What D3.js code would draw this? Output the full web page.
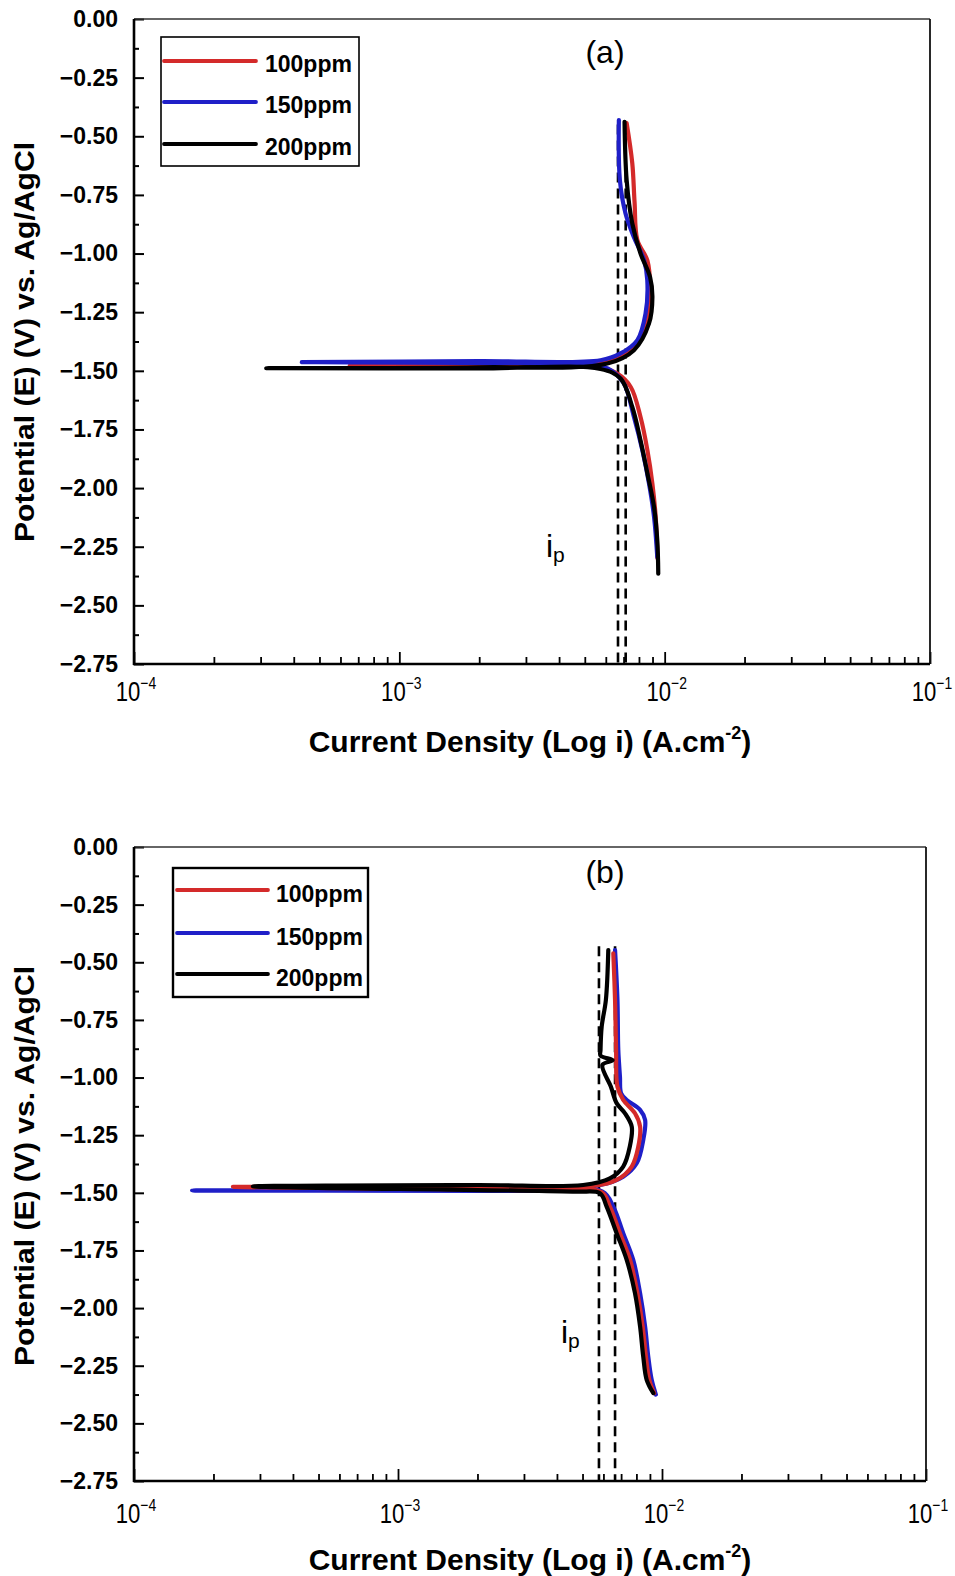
<!DOCTYPE html>
<html>
<head>
<meta charset="utf-8">
<script src="https://cdn.jsdelivr.net/npm/d3@7/dist/d3.min.js"></script>
<style>
  html, body { margin: 0; padding: 0; background: #fff; }
  svg { display: block; }
  text { font-family: Arial, "Liberation Sans", Helvetica, sans-serif; }
</style>
</head>
<body>
<svg id="chart" width="955" height="1576"></svg>
<script>
// ---------------- DATA ----------------
const seriesNames = ["100ppm", "150ppm", "200ppm"];
const yTickValues = [0, -0.25, -0.5, -0.75, -1.0, -1.25, -1.5, -1.75, -2.0, -2.25, -2.5, -2.75];
const xTickExponents = [-4, -3, -2, -1];
const panelLabels = ["(a)", "(b)"];
const xTitle = "Current Density (Log i) (A.cm";
const yTitle = "Potential (E) (V) vs. Ag/AgCl";

// Panel (a): [current density (A/cm2), potential (V)]
const a100 = [[9.40e-3,-2.300],[9.25e-3,-2.123],[8.99e-3,-1.981],[8.61e-3,-1.839],[8.11e-3,-1.697],[7.45e-3,-1.569],[6.63e-3,-1.512],[5.57e-3,-1.482],[2.0e-3,-1.481],[6.5e-4,-1.479],[2.0e-3,-1.475],[5.0e-3,-1.470],[6.44e-3,-1.448],[7.66e-3,-1.398],[8.61e-3,-1.284],[8.81e-3,-1.142],[8.61e-3,-1.030],[7.89e-3,-0.943],[7.70e-3,-0.780],[7.55e-3,-0.615],[7.19e-3,-0.444]];
const a150 = [[9.38e-3,-2.294],[9.12e-3,-2.123],[8.73e-3,-1.981],[8.24e-3,-1.839],[7.66e-3,-1.697],[7.02e-3,-1.554],[6.25e-3,-1.497],[5.5e-3,-1.476],[2.0e-3,-1.466],[4.29e-4,-1.463],[2.0e-3,-1.459],[5.73e-3,-1.455],[6.82e-3,-1.426],[7.89e-3,-1.369],[8.47e-3,-1.256],[8.60e-3,-1.113],[8.36e-3,-1.028],[7.65e-3,-0.929],[7.12e-3,-0.829],[6.78e-3,-0.687],[6.72e-3,-0.431]];
const a200 = [[9.46e-3,-2.365],[9.38e-3,-2.223],[9.12e-3,-2.081],[8.61e-3,-1.938],[8.11e-3,-1.797],[7.55e-3,-1.654],[6.82e-3,-1.533],[5.73e-3,-1.492],[2.0e-3,-1.490],[3.15e-4,-1.489],[2.0e-3,-1.485],[6.08e-3,-1.469],[7.66e-3,-1.412],[8.73e-3,-1.298],[8.99e-3,-1.185],[8.81e-3,-1.100],[8.11e-3,-1.000],[7.55e-3,-0.872],[7.19e-3,-0.687],[7.06e-3,-0.438]];
const aDashed = [6.67e-3, 7.13e-3];

// Panel (b)
const b100 = [[9.33e-3,-2.369],[8.95e-3,-2.311],[8.69e-3,-2.210],[8.45e-3,-2.080],[8.07e-3,-1.935],[7.57e-3,-1.791],[6.93e-3,-1.675],[6.35e-3,-1.560],[5.9e-3,-1.497],[3.0e-3,-1.488],[2.37e-4,-1.474],[2.0e-3,-1.471],[5.5e-3,-1.470],[6.73e-3,-1.444],[7.68e-3,-1.386],[8.13e-3,-1.300],[8.26e-3,-1.213],[7.90e-3,-1.155],[7.13e-3,-1.097],[6.78e-3,-1.040],[6.70e-3,-0.880],[6.64e-3,-0.663],[6.54e-3,-0.461]];
const b150 = [[9.48e-3,-2.375],[9.14e-3,-2.311],[8.87e-3,-2.210],[8.63e-3,-2.080],[8.26e-3,-1.935],[7.78e-3,-1.791],[7.13e-3,-1.675],[6.54e-3,-1.560],[5.95e-3,-1.495],[3.0e-3,-1.492],[1.66e-4,-1.490],[2.0e-3,-1.484],[5.82e-3,-1.466],[7.13e-3,-1.430],[8.02e-3,-1.372],[8.49e-3,-1.271],[8.63e-3,-1.184],[8.26e-3,-1.140],[7.35e-3,-1.097],[7.00e-3,-1.068],[6.93e-3,-0.996],[6.83e-3,-0.880],[6.78e-3,-0.663],[6.64e-3,-0.447]];
const b200 = [[9.27e-3,-2.369],[8.75e-3,-2.311],[8.49e-3,-2.210],[8.26e-3,-2.080],[7.90e-3,-1.935],[7.35e-3,-1.791],[6.73e-3,-1.675],[6.17e-3,-1.560],[5.82e-3,-1.502],[4.75e-3,-1.495],[2.0e-3,-1.488],[2.82e-4,-1.472],[2.0e-3,-1.466],[5.03e-3,-1.466],[6.35e-3,-1.437],[7.13e-3,-1.386],[7.55e-3,-1.300],[7.68e-3,-1.213],[7.24e-3,-1.155],[6.73e-3,-1.111],[6.40e-3,-1.039],[5.95e-3,-0.945],[6.50e-3,-0.925],[5.85e-3,-0.905],[5.85e-3,-0.880],[5.91e-3,-0.779],[6.13e-3,-0.663],[6.26e-3,-0.447]];
const bDashed = [5.77e-3, 6.64e-3];

// ---------------- STYLE / LAYOUT ----------------
const colors = {"100ppm": "#d42a2a", "150ppm": "#1f1fc8", "200ppm": "#000000"};
const panels = [
  { label: panelLabels[0], left: 134, right: 930, top: 19, bottom: 664,
    series: {"100ppm": a100, "150ppm": a150, "200ppm": a200}, order: ["100ppm","150ppm","200ppm"],
    dashed: aDashed, dashTop: -0.45,
    legend: {x0: 161, x1: 359, y0: 37, y1: 166, lx0: 164, lx1: 256, ly: [61, 102, 144], tx: 265, tdy: 11, stroke: 1.6},
    labelPos: [605, 63], ip: [546, 557], xLabelY: 701, titleY: 752, yTitleC: 342 },
  { label: panelLabels[1], left: 134, right: 926, top: 847, bottom: 1481,
    series: {"100ppm": b100, "150ppm": b150, "200ppm": b200}, order: ["150ppm","100ppm","200ppm"],
    dashed: bDashed, dashTop: -0.43,
    legend: {x0: 173, x1: 368, y0: 868, y1: 997, lx0: 177, lx1: 268, ly: [890, 933, 974], tx: 276, tdy: 12, stroke: 2.4},
    labelPos: [605, 883], ip: [561, 1343], xLabelY: 1523, titleY: 1570, yTitleC: 1166 }
];

const svg = d3.select("#chart");
svg.append("rect").attr("width", 955).attr("height", 1576).attr("fill", "#fff");

panels.forEach(p => {
  const g = svg.append("g");
  const x = d3.scaleLog().domain([1e-4, 1e-1]).range([p.left, p.right]);
  const y = d3.scaleLinear().domain([-2.75, 0]).range([p.bottom, p.top]);

  // dashed i_p lines
  p.dashed.forEach(v => {
    g.append("line")
      .attr("x1", x(v)).attr("x2", x(v))
      .attr("y1", y(p.dashTop)).attr("y2", y(-2.75))
      .attr("stroke", "#000").attr("stroke-width", 2.6)
      .attr("stroke-dasharray", "10,6");
  });

  // curves
  const line = d3.line()
    .x(d => x(d[0])).y(d => y(d[1]))
    .curve(d3.curveCatmullRom.alpha(0.5));
  p.order.forEach(name => {
    g.append("path")
      .attr("d", line(p.series[name]))
      .attr("fill", "none")
      .attr("stroke", colors[name])
      .attr("stroke-width", 4.2)
      .attr("stroke-linejoin", "round")
      .attr("stroke-linecap", "round");
  });

  // x axis ticks (inward)
  const majors = xTickExponents.map(e => Math.pow(10, e));
  const minors = [];
  for (let e = -4; e < -1; e++) for (let k = 2; k <= 9; k++) minors.push(k * Math.pow(10, e));
  const xMajor = d3.axisBottom(x).tickValues(majors).tickSize(-12).tickFormat("");
  const xMinor = d3.axisBottom(x).tickValues(minors).tickSize(-7).tickFormat("");
  [xMajor, xMinor].forEach(ax => {
    const ag = g.append("g").attr("transform", `translate(0,${p.bottom})`).call(ax);
    ag.select(".domain").remove();
    ag.selectAll(".tick line").attr("stroke", "#000").attr("stroke-width", 1.8);
  });
  // x tick labels with superscripts (condensed look)
  xTickExponents.forEach(e => {
    const t = g.append("text")
      .attr("transform", `translate(${x(Math.pow(10, e)) + 2},${p.xLabelY}) scale(0.82,1)`)
      .attr("text-anchor", "middle")
      .attr("font-size", 27).attr("fill", "#000");
    t.append("tspan").text("10");
    t.append("tspan").attr("font-size", 17).attr("dy", -12).text("\u2212" + Math.abs(e));
  });

  // y axis ticks (inward)
  const yMinor = [];
  for (let v = -0.125; v > -2.75; v -= 0.25) yMinor.push(v);
  const yMajorAx = d3.axisLeft(y).tickValues(yTickValues).tickSize(-10).tickPadding(16)
    .tickFormat(v => (v === 0 ? "0.00" : "\u2212" + Math.abs(v).toFixed(2)));
  const yMinorAx = d3.axisLeft(y).tickValues(yMinor).tickSize(-5).tickFormat("");
  const ym = g.append("g").attr("transform", `translate(${p.left},0)`).call(yMajorAx);
  ym.select(".domain").remove();
  ym.selectAll(".tick line").attr("stroke", "#000").attr("stroke-width", 2);
  ym.selectAll(".tick text")
    .attr("font-size", 23).attr("font-weight", "bold").attr("fill", "#000")
    .attr("font-family", "Arial, 'Liberation Sans', sans-serif");
  const yn = g.append("g").attr("transform", `translate(${p.left},0)`).call(yMinorAx);
  yn.select(".domain").remove();
  yn.selectAll(".tick line").attr("stroke", "#000").attr("stroke-width", 2);

  // frame
  g.append("line").attr("x1", p.left).attr("x2", p.right).attr("y1", p.top).attr("y2", p.top)
    .attr("stroke", "#333").attr("stroke-width", 1.4);
  g.append("line").attr("x1", p.right).attr("x2", p.right).attr("y1", p.top).attr("y2", p.bottom)
    .attr("stroke", "#111").attr("stroke-width", 1.8);
  g.append("line").attr("x1", p.left).attr("x2", p.left).attr("y1", p.top).attr("y2", p.bottom + 1)
    .attr("stroke", "#000").attr("stroke-width", 2.6);
  g.append("line").attr("x1", p.left - 1).attr("x2", p.right).attr("y1", p.bottom).attr("y2", p.bottom)
    .attr("stroke", "#000").attr("stroke-width", 2.6);

  // legend
  const L = p.legend;
  g.append("rect").attr("x", L.x0).attr("y", L.y0)
    .attr("width", L.x1 - L.x0).attr("height", L.y1 - L.y0)
    .attr("fill", "#fff").attr("stroke", "#000").attr("stroke-width", L.stroke);
  seriesNames.forEach((name, i) => {
    g.append("line").attr("x1", L.lx0).attr("x2", L.lx1).attr("y1", L.ly[i]).attr("y2", L.ly[i])
      .attr("stroke", colors[name]).attr("stroke-width", 3.8).attr("stroke-linecap", "round");
    g.append("text").attr("x", L.tx).attr("y", L.ly[i] + L.tdy)
      .attr("font-size", 23).attr("font-weight", "bold").attr("fill", "#000").text(name);
  });

  // panel label
  g.append("text").attr("x", p.labelPos[0]).attr("y", p.labelPos[1])
    .attr("text-anchor", "middle").attr("font-size", 32)
    .attr("font-family", "'Liberation Serif', 'Times New Roman', serif").attr("fill", "#000")
    .text(p.label);

  // i_p label
  const ip = g.append("text").attr("x", p.ip[0]).attr("y", p.ip[1]).attr("fill", "#000")
    .attr("font-size", 32);
  ip.append("tspan").text("i");
  ip.append("tspan").attr("font-size", 21).attr("dy", 5).text("p");

  // axis titles
  const xt = g.append("text").attr("x", 530).attr("y", p.titleY)
    .attr("text-anchor", "middle").attr("font-size", 30).attr("font-weight", "bold").attr("fill", "#000");
  xt.append("tspan").text(xTitle);
  xt.append("tspan").attr("font-size", 18).attr("dy", -13).text("-2");
  xt.append("tspan").attr("dy", 13).text(")");

  g.append("text")
    .attr("transform", `translate(34,${p.yTitleC}) rotate(-90)`)
    .attr("text-anchor", "middle").attr("font-size", 28).attr("font-weight", "bold").attr("fill", "#000")
    .attr("textLength", 400).attr("lengthAdjust", "spacingAndGlyphs")
    .text(yTitle);
});
</script>
</body>
</html>
